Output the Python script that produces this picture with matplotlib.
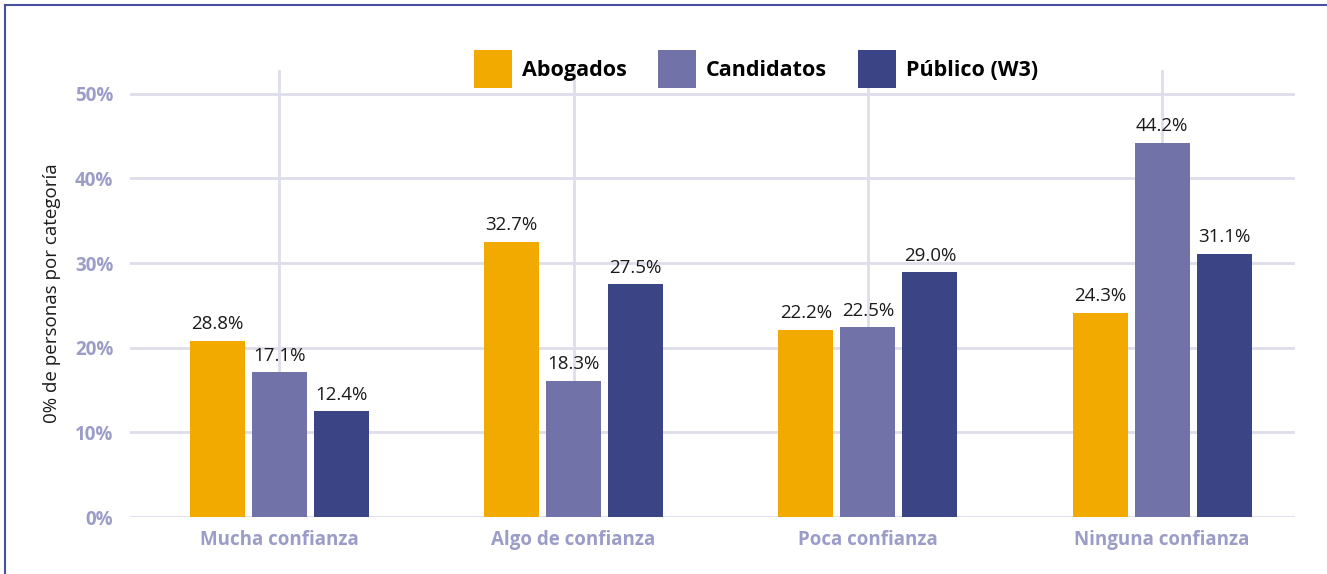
import numpy as np
import matplotlib.pyplot as plt
from matplotlib.lines import Line2D

plt.rcParams['font.family'] = ['Open Sans', 'DejaVu Sans']

categories = ["Mucha confianza", "Algo de confianza", "Poca confianza", "Ninguna confianza"]
series_names = ["Abogados", "Candidatos", "Público (W3)"]

# bar heights as drawn
abogados = [20.8, 32.5, 22.1, 24.1]
candidatos = [17.1, 16.1, 22.4, 44.2]
publico = [12.5, 27.5, 28.9, 31.1]

# labels as printed above the bars
abogados_lbl = ["28.8%", "32.7%", "22.2%", "24.3%"]
candidatos_lbl = ["17.1%", "18.3%", "22.5%", "44.2%"]
publico_lbl = ["12.4%", "27.5%", "29.0%", "31.1%"]

yticks = [0, 10, 20, 30, 40, 50]

colours = ['#F2A900', '#7173A8', '#3B4585']
tick_colour = '#9B9DC8'
grid_colour = '#DEDEEA'

fig = plt.figure(figsize=(13.27, 5.74), dpi=100)
ax = fig.add_axes([0.098, 0.099, 0.878, 0.779])

x = np.arange(len(categories))
width = 0.187
offset = 0.211

values = [abogados, candidatos, publico]
labels = [abogados_lbl, candidatos_lbl, publico_lbl]

for i in range(3):
    pos = x + (i - 1) * offset
    bars = ax.bar(pos, values[i], width, color=colours[i], label=series_names[i], zorder=3)
    for b, txt in zip(bars, labels[i]):
        ax.text(b.get_x() + b.get_width() / 2, b.get_height() + 0.9, txt,
                ha='center', va='bottom', fontsize=13.5, color='#1a1a1a', zorder=4)

for xi in x:
    ax.axvline(xi, color=grid_colour, lw=2, zorder=1)
for yt in yticks:
    ax.axhline(yt, color=grid_colour, lw=2, zorder=1)

ax.set_xlim(-0.507, 3.452)
ax.set_ylim(0, 52.8)
ax.set_yticks(yticks)
ax.set_yticklabels([str(t) + "%" for t in yticks])
ax.set_xticks(x)
ax.set_xticklabels(categories)

for lbl in ax.get_xticklabels() + ax.get_yticklabels():
    lbl.set_color(tick_colour)
    lbl.set_fontweight('bold')
    lbl.set_fontsize(13.5)

ax.tick_params(axis='both', length=0)
ax.tick_params(axis='x', pad=9)
ax.tick_params(axis='y', pad=12)

for s in ax.spines.values():
    s.set_visible(False)

ax.set_ylabel("0% de personas por categoría", fontsize=13.5, color='#1a1a1a', labelpad=10)

leg = fig.legend(loc='center', bbox_to_anchor=(0.570, 0.880), ncol=3, frameon=False,
                 handlelength=1.77, handleheight=2.35, handletextpad=0.46, columnspacing=1.44,
                 prop={'weight': 'bold', 'size': 15.5})

# frame line at left and top
fig.add_artist(Line2D([5 / 1327, 5 / 1327], [0, 1 - 5 / 574], color='#4A50A0', lw=1.5))
fig.add_artist(Line2D([5 / 1327, 1], [1 - 5 / 574, 1 - 5 / 574], color='#4A50A0', lw=1.5))

plt.savefig("out.png", dpi=100)
